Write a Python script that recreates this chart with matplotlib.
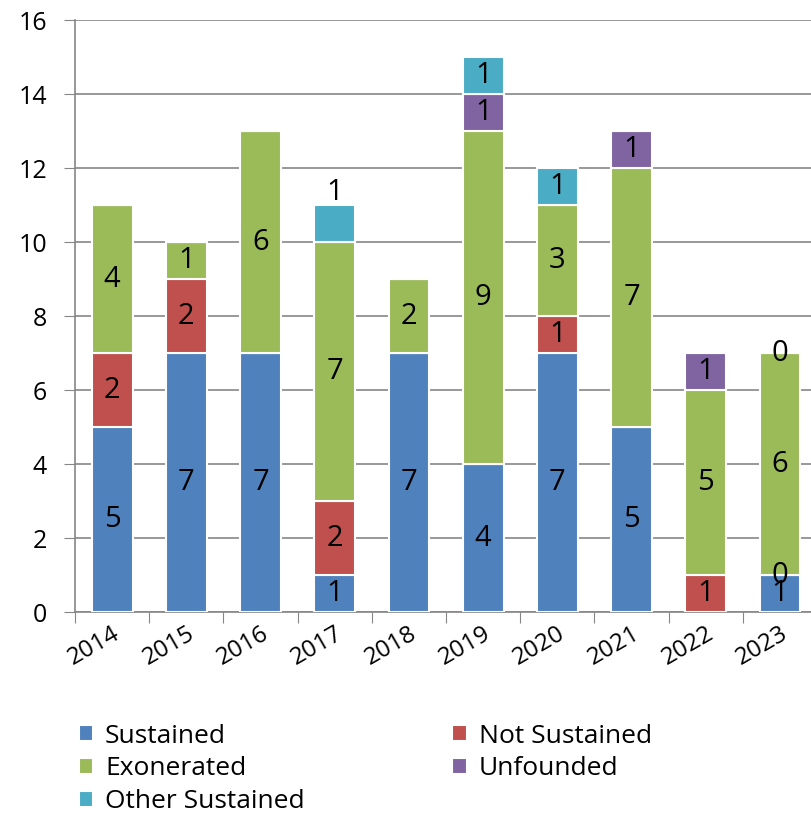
import matplotlib

matplotlib.use("Agg")
import matplotlib.pyplot as plt
import numpy as np

plt.rcParams["font.family"] = ["Open Sans", "DejaVu Sans"]

years = ["2014", "2015", "2016", "2017", "2018", "2019", "2020", "2021", "2022", "2023"]
series_names = ["Sustained", "Not Sustained", "Exonerated", "Unfounded", "Other Sustained"]
# None = no segment / no label
sustained = [5, 7, 7, 1, 7, 4, 7, 5, None, 1]
not_sustained = [2, 2, None, 2, None, None, 1, None, 1, 0]
exonerated = [4, 1, 6, 7, 2, 9, 3, 7, 5, 6]
unfounded = [None, None, None, None, None, 1, None, 1, 1, 0]
other_sustained = [None, None, None, 1, None, 1, 1, None, None, None]

COLORS = ["#4F81BD", "#C0504D", "#9BBB59", "#8064A2", "#4BACC6"]
GRID = "#868686"

fig = plt.figure(figsize=(8.11, 8.13), dpi=100)
ax = fig.add_axes([0.0925, 0.247, 0.915, 0.728])

x = np.arange(len(years))
bottom = np.zeros(len(years))
all_series = [sustained, not_sustained, exonerated, unfounded, other_sustained]
for name, vals, color in zip(series_names, all_series, COLORS):
    v = np.array([0 if a is None else a for a in vals], dtype=float)
    ax.bar(x, v, 0.55, bottom=bottom, color=color, edgecolor="white", linewidth=1.5,
           label=name, zorder=3)
    for i, a in enumerate(vals):
        if a is None:
            continue
        yc = bottom[i] + a / 2
        if name == "Other Sustained" and years[i] == "2017":
            yc = bottom[i] + a + 0.35
        ax.text(x[i], yc, str(a), ha="center", va="center", fontsize=21, zorder=5)
    bottom += v

ax.set_xlim(-0.5, len(years) - 0.5)
ax.set_ylim(0, 16)
ax.set_yticks(range(0, 17, 2))
ax.yaxis.grid(True, color=GRID, lw=1.2, zorder=0)
ax.set_axisbelow(True)
for s in ["top", "right"]:
    ax.spines[s].set_visible(False)
ax.spines["left"].set_color(GRID)
ax.spines["bottom"].set_color(GRID)
ax.spines["left"].set_linewidth(1.2)
ax.spines["bottom"].set_linewidth(1.2)
ax.tick_params(axis="y", length=8, color=GRID, labelsize=18, pad=12)

ax.set_xticks(np.arange(-0.5, len(years), 1.0))
ax.set_xticklabels([])
ax.tick_params(axis="x", length=8, color=GRID)
for i, yr in enumerate(years):
    ax.text(x[i], -0.25, yr, rotation=30, ha="right", va="top", rotation_mode="anchor",
            fontsize=17.5, transform=ax.transData)

handles, labels = ax.get_legend_handles_labels()
order = [0, 2, 4, 1, 3]
leg = fig.legend([handles[k] for k in order], [labels[k] for k in order],
                 loc="upper left", bbox_to_anchor=(0.084, 0.123), ncol=2, frameon=False,
                 fontsize=19, handlelength=0.55, handleheight=0.55, handletextpad=0.45,
                 columnspacing=5.6, labelspacing=0.3, borderaxespad=0)

fig.savefig("out.png", dpi=100)
